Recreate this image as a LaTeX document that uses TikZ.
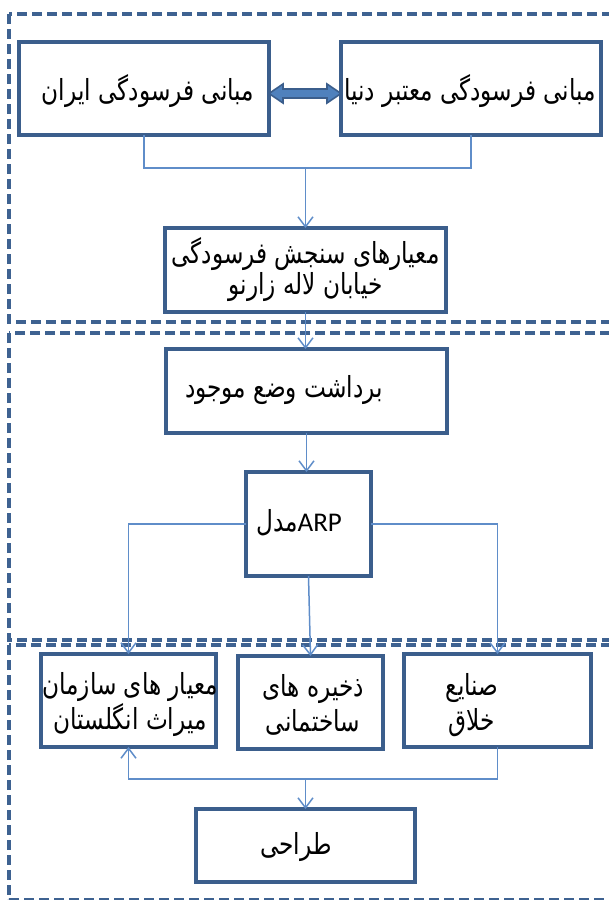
\documentclass[tikz,border=0pt]{standalone}
\usepackage{fontspec}
\usetikzlibrary{arrows.meta,calc}
\TeXXeTstate=1
\newfontfamily\fafont[Script=Arabic, FakeStretch=0.8]{DejaVu Sans}
\newfontfamily\latfont{Carlito}
\definecolor{boxblue}{RGB}{59,94,140}
\definecolor{linkblue}{RGB}{95,141,201}
\definecolor{arrfill}{RGB}{79,129,189}
\definecolor{frameblue}{RGB}{62,98,145}
\newcommand\rtl[1]{\beginR #1\endR}

\tikzset{
  stage/.style={draw=frameblue, line width=3.4pt, dash pattern=on 10pt off 5pt},
  box/.style={draw=boxblue, line width=3.8pt, fill=white, rectangle,
              inner sep=0pt, outer sep=0pt},
  lbl/.style={font=\fafont\fontsize{29}{31}\selectfont, align=center, inner sep=0pt},
  lowlbl/.style={lbl, font=\fafont\fontsize{29}{35}\selectfont},
  link/.style={draw=linkblue, line width=1.5pt},
  arr/.style={link, -{Straight Barb[length=10pt,width=15pt,line width=1.5pt]}},
  dblarrow/.style={draw=boxblue, fill=arrfill, line width=1.6pt, line join=miter}
}

\begin{document}
\begin{tikzpicture}[x=1pt,y=-1pt]
\useasboundingbox (0,0) rectangle (609,900);

% three dashed stages
\draw[stage] (9,14) rectangle (625,322);
\draw[stage] (9,333) rectangle (625,640);
\draw[stage] (9,645) rectangle (625,900);

% boxes
\node[box, minimum width=250pt, minimum height=93pt] (A) at (144,88.5) {};
\node[box, minimum width=260pt, minimum height=93pt] (B) at (471,88.5) {};
\node[box, minimum width=281pt, minimum height=84pt] (C) at (305.5,270) {};
\node[box, minimum width=281pt, minimum height=84pt] (D) at (306.5,391) {};
\node[box, minimum width=125pt, minimum height=104pt] (E) at (308.5,524) {};
\node[box, minimum width=175pt, minimum height=93pt] (F) at (128.5,700.5) {};
\node[box, minimum width=145pt, minimum height=93pt] (G) at (310.5,702.5) {};
\node[box, minimum width=187pt, minimum height=93pt] (H) at (497.5,700.5) {};
\node[box, minimum width=219pt, minimum height=73pt] (I) at (305.5,845.5) {};

% labels
\node[lbl] (At) at (148,91) {\rtl{مبانی فرسودگی ایران}};
\node[lbl] (Bt) at (470,91) {\rtl{مبانی فرسودگی معتبر دنیا}};
\node[lbl] (Ct) at (305.5,270) {\rtl{معیارهای سنجش فرسودگی}\\\rtl{خیابان لاله زارنو}};
\node[lbl] (Dt) at (284,390) {\rtl{برداشت وضع موجود}};
\node[lbl] (Et) at (299,523) {\rtl{\beginL{\latfont\fontsize{27}{30}\selectfont ARP}\endL مدل}};
\node[lowlbl] (Ft) at (130,705) {\rtl{معیار های سازمان}\\\rtl{میراث انگلستان}};
\node[lowlbl] (Gt) at (313,705) {\rtl{ذخیره های}\\\rtl{ساختمانی}};
\node[lowlbl] (Ht) at (472,705) {\rtl{صنایع}\\\rtl{خلاق}};
\node[lbl] (It) at (296,847) {\rtl{طراحی}};

% two-way link between the two sets of principles
\path[dblarrow] ($(A.east)+(0,5)$) -- ++(14,-9.5) -- ++(0,5) -- ($(B.west)+(-14,0.5)$)
  -- ++(0,-5) -- ($(B.west)+(0,5)$) -- ++(-14,9.5) -- ++(0,-5) -- ($(A.east)+(14,9.5)$)
  -- ++(0,5) -- cycle;

% connectors
\coordinate (j1) at (C.north |- 0,168);
\draw[link] (A.south) |- (j1) -| (B.south);
\draw[arr] (j1) -- (C.north);
\draw[arr] (C.south) -- (C.south |- D.north);
\draw[arr] (D.south) -- (D.south |- E.north);
\draw[arr] (E.west) -| (F.north);
\draw[arr] (E.east) -| (H.north);
\draw[arr] (E.south) -- (G.north);
\coordinate (j2) at (I.north |- 0,779);
\draw[arr] (H.south) |- (j2) -| (F.south);
\draw[arr] (j2) -- (I.north);
\end{tikzpicture}
\end{document}
